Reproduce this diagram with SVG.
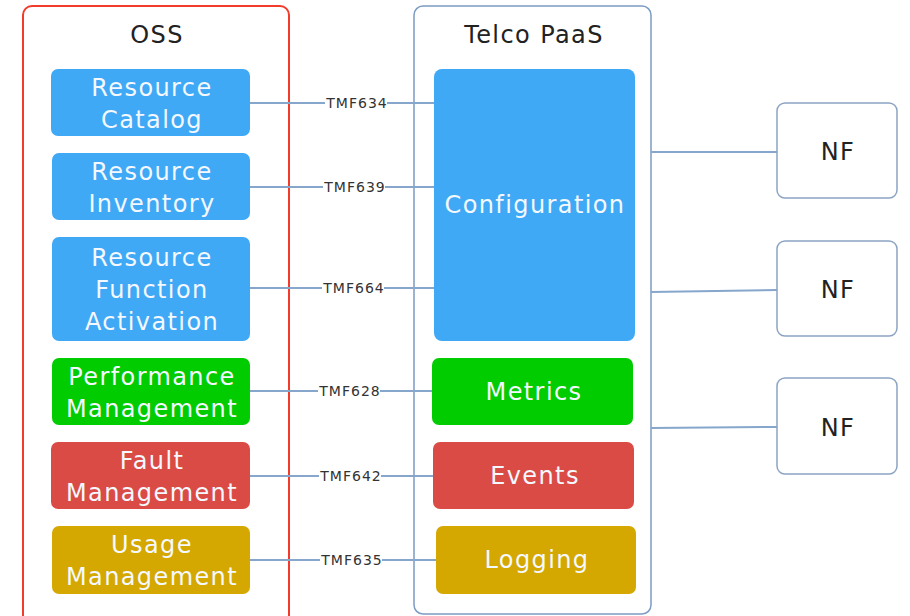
<svg xmlns="http://www.w3.org/2000/svg" width="910" height="616" viewBox="0 0 910 616">
  <style>
    .title { font-family: "DejaVu Sans", "Liberation Sans", sans-serif; font-size: 24px; letter-spacing: 1.4px; fill: #222; text-anchor: middle; }
    .lbl { font-family: "DejaVu Sans", "Liberation Sans", sans-serif; font-size: 24px; letter-spacing: 1.4px; fill: #f4f8ff; text-anchor: middle; }
    .tmf { font-family: "DejaVu Sans", "Liberation Sans", sans-serif; font-size: 14px; letter-spacing: 1px; fill: #333; text-anchor: middle; }
    .nf { font-family: "DejaVu Sans", "Liberation Sans", sans-serif; font-size: 24px; letter-spacing: 1.4px; fill: #222; text-anchor: middle; }
    .blue { fill: #3fa9f5; }
    .green { fill: #00cc00; }
    .red { fill: #db4b45; }
    .gold { fill: #d4a800; }
    .edge { stroke: #86a6cc; stroke-width: 2; fill: none; }
    .nfbox { fill: #fff; stroke: #8ca4c4; stroke-width: 1.5; }
  </style>
  <rect width="910" height="616" fill="#fff"/>

  <!-- containers -->
  <g id="oss">
    <rect x="23" y="6" width="266" height="620" rx="9" fill="#fff" stroke="#f23b2b" stroke-width="2"/>
    <text class="title" x="157" y="43">OSS</text>
  </g>
  <g id="paas">
    <rect x="414" y="6" width="237" height="608" rx="9" fill="#fff" stroke="#7c9cc4" stroke-width="1.5"/>
    <text class="title" x="534" y="43">Telco PaaS</text>
  </g>

  <!-- connectors -->
  <g id="connectors">
    <line class="edge" x1="250" y1="103" x2="434" y2="103"/>
    <line class="edge" x1="250" y1="187" x2="434" y2="187"/>
    <line class="edge" x1="250" y1="288" x2="434" y2="288"/>
    <line class="edge" x1="250" y1="391" x2="432" y2="391"/>
    <line class="edge" x1="250" y1="476" x2="433" y2="476"/>
    <line class="edge" x1="250" y1="560" x2="436" y2="560"/>
    <line class="edge" x1="651" y1="152" x2="777" y2="152"/>
    <line class="edge" x1="651" y1="292" x2="777" y2="290"/>
    <line class="edge" x1="651" y1="428" x2="777" y2="427"/>
    <g>
      <rect x="325" y="95" width="62" height="16" fill="#fff"/>
      <text class="tmf" x="357" y="108">TMF634</text>
      <rect x="323" y="179" width="62" height="16" fill="#fff"/>
      <text class="tmf" x="355" y="192">TMF639</text>
      <rect x="322" y="280" width="62" height="16" fill="#fff"/>
      <text class="tmf" x="354" y="293">TMF664</text>
      <rect x="318" y="383" width="62" height="16" fill="#fff"/>
      <text class="tmf" x="350" y="396">TMF628</text>
      <rect x="319" y="468" width="62" height="16" fill="#fff"/>
      <text class="tmf" x="351" y="481">TMF642</text>
      <rect x="320" y="552" width="62" height="16" fill="#fff"/>
      <text class="tmf" x="352" y="565">TMF635</text>
    </g>
  </g>

  <!-- OSS nodes -->
  <g id="resource-catalog">
    <rect class="blue" x="51" y="69" width="199" height="67" rx="7"/>
    <text class="lbl" x="152" y="96">Resource</text>
    <text class="lbl" x="152" y="128">Catalog</text>
  </g>
  <g id="resource-inventory">
    <rect class="blue" x="52" y="153" width="198" height="67" rx="7"/>
    <text class="lbl" x="152" y="180">Resource</text>
    <text class="lbl" x="152" y="212">Inventory</text>
  </g>
  <g id="resource-function-activation">
    <rect class="blue" x="52" y="237" width="198" height="104" rx="7"/>
    <text class="lbl" x="152" y="266">Resource</text>
    <text class="lbl" x="152" y="298">Function</text>
    <text class="lbl" x="152" y="330">Activation</text>
  </g>
  <g id="performance-management">
    <rect class="green" x="52" y="358" width="198" height="67" rx="7"/>
    <text class="lbl" x="152" y="385">Performance</text>
    <text class="lbl" x="152" y="417">Management</text>
  </g>
  <g id="fault-management">
    <rect class="red" x="51" y="442" width="199" height="67" rx="7"/>
    <text class="lbl" x="152" y="469">Fault</text>
    <text class="lbl" x="152" y="501">Management</text>
  </g>
  <g id="usage-management">
    <rect class="gold" x="52" y="526" width="198" height="68" rx="7"/>
    <text class="lbl" x="152" y="553">Usage</text>
    <text class="lbl" x="152" y="585">Management</text>
  </g>

  <!-- Telco PaaS nodes -->
  <g id="configuration">
    <rect class="blue" x="434" y="69" width="201" height="272" rx="8"/>
    <text class="lbl" x="535" y="213">Configuration</text>
  </g>
  <g id="metrics">
    <rect class="green" x="432" y="358" width="201" height="67" rx="7"/>
    <text class="lbl" x="534" y="400">Metrics</text>
  </g>
  <g id="events">
    <rect class="red" x="433" y="442" width="201" height="67" rx="7"/>
    <text class="lbl" x="535" y="484">Events</text>
  </g>
  <g id="logging">
    <rect class="gold" x="436" y="526" width="200" height="68" rx="7"/>
    <text class="lbl" x="537" y="568">Logging</text>
  </g>

  <!-- network functions -->
  <g id="nf1">
    <rect class="nfbox" x="777" y="103" width="120" height="95" rx="8"/>
    <text class="nf" x="838" y="160">NF</text>
  </g>
  <g id="nf2">
    <rect class="nfbox" x="777" y="241" width="120" height="95" rx="8"/>
    <text class="nf" x="838" y="298">NF</text>
  </g>
  <g id="nf3">
    <rect class="nfbox" x="777" y="378" width="120" height="96" rx="8"/>
    <text class="nf" x="838" y="436">NF</text>
  </g>
</svg>
